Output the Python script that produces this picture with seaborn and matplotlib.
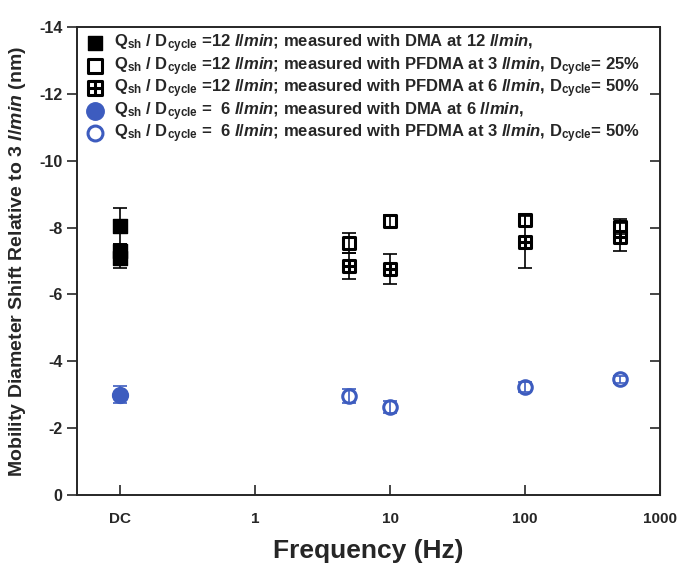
import numpy as np
import matplotlib
matplotlib.use("Agg")
import matplotlib.pyplot as plt
from matplotlib.path import Path
import seaborn as sns

# ---------------- data ----------------
freq_dc = [0.1, 0.1, 0.1]
dma12_y = [-8.05, -7.30, -7.10]
dma12_err = [0.55, 0.20, 0.32]

freq_pf = [5, 10, 100, 500]
pf3_25_y = [-7.55, -8.20, -8.23, -8.03]
pf3_25_err = [0.30, 0.18, 0.18, 0.22]

pf6_50_y = [-6.85, -6.75, -7.58, -7.73]
pf6_50_err = [0.40, 0.45, 0.78, 0.42]

dma6_x = [0.1]
dma6_y = [-3.00]
dma6_err = [0.25]

pf3_50_y = [-2.96, -2.64, -3.22, -3.46]
pf3_50_err = [0.20, 0.18, 0.15, 0.10]

xticks = [0.1, 1, 10, 100, 1000]
xticklabels = ["DC", "1", "10", "100", "1000"]
yticks = [0, -2, -4, -6, -8, -10, -12, -14]

labels = [
    r"Q$_{\mathrm{sh}}$ / D$_{\mathrm{cycle}}$ =12 $\mathit{l/min}$; measured with DMA at 12 $\mathit{l/min}$,",
    r"Q$_{\mathrm{sh}}$ / D$_{\mathrm{cycle}}$ =12 $\mathit{l/min}$; measured with PFDMA at 3 $\mathit{l/min}$, D$_{\mathrm{cycle}}$= 25%",
    r"Q$_{\mathrm{sh}}$ / D$_{\mathrm{cycle}}$ =12 $\mathit{l/min}$; measured with PFDMA at 6 $\mathit{l/min}$, D$_{\mathrm{cycle}}$= 50%",
    r"Q$_{\mathrm{sh}}$ / D$_{\mathrm{cycle}}$ =  6 $\mathit{l/min}$; measured with DMA at 6 $\mathit{l/min}$,",
    r"Q$_{\mathrm{sh}}$ / D$_{\mathrm{cycle}}$ =  6 $\mathit{l/min}$; measured with PFDMA at 3 $\mathit{l/min}$, D$_{\mathrm{cycle}}$= 50%",
]

# ---------------- style ----------------
sns.set_style("ticks")
plt.rcParams["font.family"] = ["Liberation Sans", "DejaVu Sans"]
plt.rcParams["font.weight"] = "bold"
plt.rcParams["mathtext.fontset"] = "custom"
plt.rcParams["mathtext.rm"] = "Liberation Sans:bold"
plt.rcParams["mathtext.it"] = "Liberation Sans:bold:italic"
plt.rcParams["mathtext.bf"] = "Liberation Sans:bold"
plt.rcParams["axes.unicode_minus"] = False

blue = "#3d5cbf"

# crossed-square marker
verts = [(-1, -1), (1, -1), (1, 1), (-1, 1), (-1, -1),
         (0, -1), (0, 1), (-1, 0), (1, 0)]
codes = [Path.MOVETO, Path.LINETO, Path.LINETO, Path.LINETO, Path.CLOSEPOLY,
         Path.MOVETO, Path.LINETO, Path.MOVETO, Path.LINETO]
cross_sq = Path(verts, codes)

fig = plt.figure(figsize=(6.8, 5.65), dpi=100)
ax = fig.add_axes([0.113, 0.124, 0.858, 0.828])

ekw = dict(fmt="none", capsize=5, elinewidth=1.2, capthick=1.2, zorder=4)
ax.errorbar(freq_dc, dma12_y, yerr=dma12_err, ecolor="black", **ekw)
ax.errorbar(freq_pf, pf3_25_y, yerr=pf3_25_err, ecolor="black", **ekw)
ax.errorbar(freq_pf, pf6_50_y, yerr=pf6_50_err, ecolor="black", **ekw)
ax.errorbar(dma6_x, dma6_y, yerr=dma6_err, ecolor=blue, **ekw)
ax.errorbar(freq_pf, pf3_50_y, yerr=pf3_50_err, ecolor=blue, **ekw)

sns.scatterplot(x=freq_dc, y=dma12_y, marker="s", s=95, color="black",
                edgecolor="black", linewidth=1, ax=ax, label=labels[0], zorder=3)
sns.scatterplot(x=freq_pf, y=pf3_25_y, marker="s", s=80, color="white",
                edgecolor="black", linewidth=2.2, ax=ax, label=labels[1], zorder=3)
sns.scatterplot(x=freq_pf, y=pf6_50_y, marker=cross_sq, s=80, color="white",
                edgecolor="black", linewidth=2.2, ax=ax, label=labels[2], zorder=3)
sns.scatterplot(x=dma6_x, y=dma6_y, marker="o", s=130, color=blue,
                edgecolor=blue, linewidth=1, ax=ax, label=labels[3], zorder=3)
sns.scatterplot(x=freq_pf, y=pf3_50_y, marker="o", s=95, color="white",
                edgecolor=blue, linewidth=2.2, ax=ax, label=labels[4], zorder=3)

ax.set_xscale("log")
ax.set_xlim(0.048, 1000)
ax.set_xticks(xticks)
ax.set_xticklabels(xticklabels)
ax.xaxis.set_minor_locator(matplotlib.ticker.NullLocator())
ax.set_ylim(0, -14)
ax.set_yticks(yticks)
ax.set_yticklabels([str(v) for v in yticks])

ax.tick_params(axis="x", direction="in", length=7, width=1.2, labelsize=11, pad=12,
               top=False)
ax.tick_params(axis="y", direction="out", length=7, width=1.2, labelsize=11.5,
               right=False)
ax2 = ax.secondary_yaxis("right")
ax2.set_yticks(yticks)
ax2.tick_params(direction="in", length=7, width=1.2, labelright=False)
for lab in ax.get_xticklabels() + ax.get_yticklabels():
    lab.set_fontweight("bold")
for sp in ax.spines.values():
    sp.set_linewidth(1.4)
    sp.set_visible(True)

ax.set_xlabel("Frequency (Hz)", fontsize=19, fontweight="bold", labelpad=10)
ax.set_ylabel(r"Mobility Diameter Shift Relative to 3 $\mathit{l/min}$ (nm)",
              fontsize=14, fontweight="bold", labelpad=8)

leg = ax.legend(loc="upper left", bbox_to_anchor=(0.006, 1.003), frameon=False,
                fontsize=12, handletextpad=0.6, labelspacing=0.0,
                borderaxespad=0.1, borderpad=0.3, handlelength=1.0,
                markerscale=1.1)
for t in leg.get_texts():
    t.set_fontweight("bold")

fig.savefig("out.png", dpi=100)
